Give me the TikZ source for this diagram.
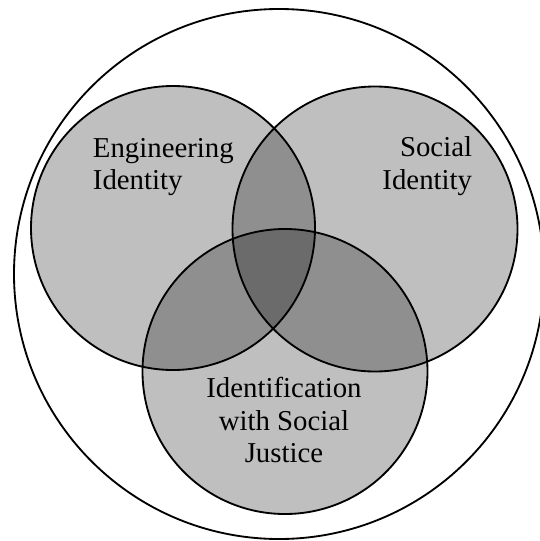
\documentclass[tikz,border=0pt]{standalone}
\usepackage{fontspec}
\setmainfont{Liberation Serif}
\usepackage{xcolor}
\usepackage{tikz}
\usetikzlibrary{positioning}

\tikzset{
  set/.style={draw=black,fill=black,fill opacity=0.25,draw opacity=1},
  settext/.style={font=\fontsize{16.4pt}{18.7pt}\selectfont,inner sep=0pt,text opacity=1}
}

\begin{document}
\begin{tikzpicture}[x=0.02cm,y=-0.02cm,line width=1.05pt]
\useasboundingbox (0,0) rectangle (540,541);
\clip (0,0) rectangle (540,541);

% centres of the circles
\coordinate (U) at (279,274);
\coordinate (EI) at (173,228);
\coordinate (SI) at (375,229);
\coordinate (SJ) at (285,371.5);

% outer set
\draw (U) circle (265);

% the three identities
\draw[set] (EI) circle (142);
\draw[set] (SI) circle (142.5);
\draw[set] (SJ) circle (142.5);

\node[settext,anchor=north west,align=left] (eng) at (92,137) {Engineering\\Identity};
\node[settext,anchor=north east,align=right] (soc) at (473,136) {Social\\Identity};
\node[settext,anchor=north,align=center] (isj) at (284,376) {Identification\\with Social\\Justice};

\end{tikzpicture}
\end{document}
